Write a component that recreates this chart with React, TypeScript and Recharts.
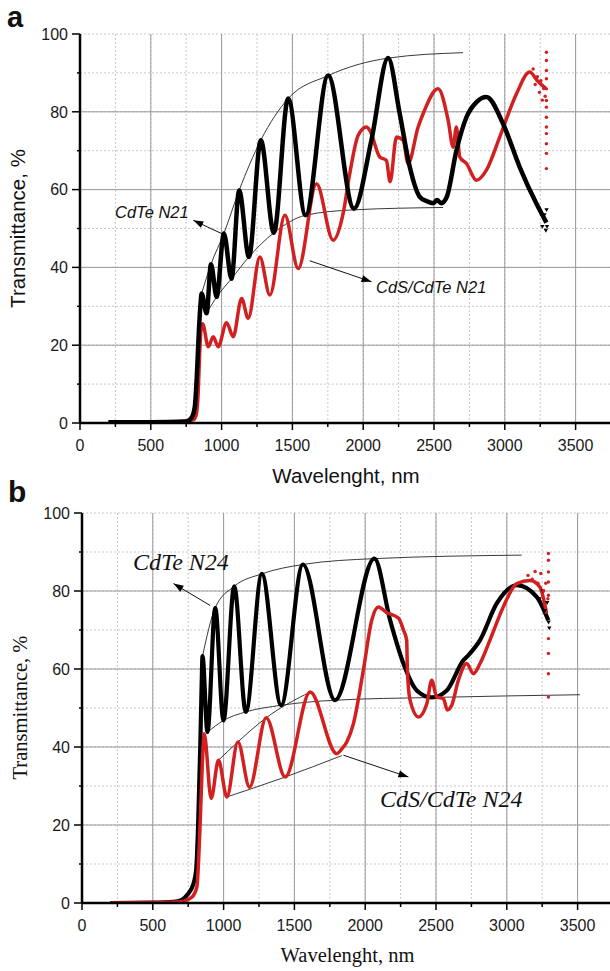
import React from 'react';
import { ComposedChart, Line, Scatter, XAxis, YAxis, CartesianGrid, ReferenceLine } from 'recharts';

const RED = '#d22020';
const SANS = '"Liberation Sans", Arial, sans-serif';
const SERIF = '"Liberation Serif", "Times New Roman", serif';

// axis ticks
const X_TICKS = [0, 250, 500, 750, 1000, 1250, 1500, 1750, 2000, 2250, 2500, 2750, 3000, 3250, 3500, 3750];
const Y_TICKS = [0, 10, 20, 30, 40, 50, 60, 70, 80, 90, 100];
const X_MAJOR = [500, 1000, 1500, 2000, 2500, 3000, 3500];
const Y_MAJOR = [20, 40, 60, 80];

// ---- panel a ----
const n21Wl = [200, 500, 750, 790, 810, 825, 840, 852, 859, 894, 925, 965, 1016, 1070, 1124, 1193, 1277, 1369, 1470, 1593, 1752, 1935, 2058, 2176, 2258, 2329, 2400, 2450, 2495, 2522, 2550, 2590, 2658, 2729, 2800, 2870, 2987, 3105, 3223, 3294];
const n21T = [0.2, 0.2, 0.4, 1.5, 4, 12, 24, 31, 33.3, 28.2, 40.8, 32.4, 48.7, 37.1, 59.8, 42.7, 72.7, 48.9, 83.4, 53.4, 89.3, 55.1, 72.7, 93.8, 79.5, 65.8, 58.1, 57, 56.5, 57.3, 56.5, 58.1, 70, 78.6, 82.5, 83.8, 77, 65.8, 56.4, 51.5];
const n21NoiseWl = [3250, 3265, 3280, 3290, 3295, 3298];
const n21NoiseT = [54.5, 50.5, 53.5, 49.5, 54.8, 50.5];

const cdsN21Wl = [560, 700, 800, 820, 835, 845, 855, 866, 906, 941, 976, 1035, 1082, 1141, 1188, 1270, 1341, 1447, 1541, 1670, 1788, 1858, 1905, 1964, 2023, 2047, 2117, 2164, 2190, 2235, 2282, 2317, 2388, 2423, 2529, 2600, 2635, 2658, 2682, 2729, 2800, 2870, 2964, 3082, 3176, 3230, 3290];
const cdsN21T = [0.2, 0.3, 0.8, 2, 8, 18, 24, 25.5, 19.6, 22.2, 19.6, 25.8, 22.2, 32, 26.9, 42.7, 32.9, 53.4, 39.7, 61.5, 47, 53.8, 64.1, 73.9, 76.1, 75.2, 68.4, 67.5, 62, 73.5, 72.7, 66.7, 76.1, 79.5, 85.9, 77.8, 70.9, 76.1, 68.4, 66.7, 62.4, 65, 73.5, 84.6, 90.2, 88, 86];
const cdsN21NoiseWl = [3200, 3215, 3230, 3245, 3255, 3265, 3275, 3285, 3294, 3294, 3294, 3294, 3294, 3294, 3294, 3294, 3294, 3294, 3294, 3294, 3294];
const cdsN21NoiseT = [91, 87, 89, 85, 88, 83, 86, 84, 95.3, 93.2, 90.6, 88.5, 85.9, 82.9, 81.2, 78.6, 76.1, 74.4, 71.8, 69.3, 65.4];

const n21UpWl = [859, 925, 1016, 1124, 1277, 1470, 1752, 2176, 2705];
const n21UpT = [33.3, 40.8, 48.7, 59.8, 72.7, 83.4, 89.3, 93.8, 95.2];
const n21LoWl = [894, 965, 1070, 1193, 1369, 1593, 1935, 2564];
const n21LoT = [28.2, 32.4, 37.1, 42.7, 48.9, 53.4, 54.8, 55.4];

const arrowA1Wl = [1000, 800];
const arrowA1T = [48.7, 52.1];
const arrowA2Wl = [1623, 2059];
const arrowA2T = [41.7, 36.3];

// ---- panel b ----
const n24Wl = [200, 500, 646, 700, 741, 788, 806, 820, 835, 845, 851, 886, 941, 999, 1075, 1157, 1270, 1406, 1560, 1787, 2065, 2176, 2270, 2364, 2470, 2576, 2693, 2728, 2811, 2929, 3070, 3211, 3293];
const n24T = [0, 0.1, 0.3, 0.7, 2, 5, 8.5, 20, 40, 56, 63.3, 43.8, 75.7, 46.8, 81.2, 49, 84.4, 50.7, 86.8, 52, 88.3, 72.5, 61.4, 54.5, 52.7, 54.5, 62.2, 63.5, 67.4, 76.8, 81.5, 78.5, 72.5];
const n24NoiseWl = [3230, 3255, 3270, 3285, 3295, 3300];
const n24NoiseT = [78, 80, 75, 77, 72, 70.5];

const cdsN24Wl = [200, 500, 694, 776, 811, 835, 850, 863, 912, 964, 1023, 1101, 1183, 1301, 1435, 1611, 1799, 1835, 1870, 1917, 1987, 2046, 2093, 2150, 2236, 2270, 2293, 2298, 2317, 2376, 2435, 2470, 2505, 2552, 2580, 2611, 2658, 2717, 2764, 2811, 2881, 2975, 3070, 3164, 3234, 3281];
const cdsN24T = [0, 0.1, 0.3, 1.5, 4.1, 21, 36, 43.4, 26.8, 36.6, 27.2, 41.3, 29.7, 47.5, 32.3, 54.1, 38.3, 39.5, 41.3, 46, 59.7, 72.5, 75.9, 74.5, 73, 70, 67.4, 59.7, 52, 47.7, 51.1, 57.1, 52.8, 52.4, 49.5, 50.7, 57.1, 61.4, 58.8, 61.4, 67.4, 75.9, 81.9, 82.7, 81, 74.2];
const cdsN24NoiseWl = [3150, 3180, 3200, 3220, 3240, 3260, 3275, 3290, 3294, 3294, 3294, 3294, 3294, 3294, 3294, 3294, 3294];
const cdsN24NoiseT = [84, 83, 85, 82, 84.5, 80, 82, 78, 89.6, 87.9, 84.9, 82.3, 78.9, 67.8, 64, 58.8, 52.8];

const n24UpWl = [851, 941, 1075, 1270, 1560, 2065, 3105];
const n24UpT = [63.3, 75.7, 81.2, 84.4, 86.8, 88.3, 89.2];
const n24LoWl = [886, 999, 1157, 1406, 1787, 2470, 3516];
const n24LoT = [43.8, 46.8, 49, 50.7, 52, 52.7, 53.4];
const cdsN24UpWl = [964, 1101, 1301, 1611];
const cdsN24UpT = [36.6, 41.3, 47.5, 54.1];
const cdsN24LoWl = [1023, 1435, 1835];
const cdsN24LoT = [27.2, 32.3, 37.8];

const arrowB1Wl = [905, 646];
const arrowB1T = [76.3, 81.9];
const arrowB2Wl = [1846, 2305];
const arrowB2T = [37.9, 32.3];

const zip = (w: number[], t: number[]) => w.map((v, i) => ({ w: v, t: t[i] }));

// custom ticks: (x, y) is the point on the axis line
const bottomTick = (p: any) => {
  const major = p.payload.value % 500 === 0;
  return (
    <g>
      <line x1={p.x} x2={p.x} y1={p.y} y2={p.y + (major ? 7 : 4)} stroke="#000" strokeWidth={1.5} />
      {major && (
        <text x={p.x} y={p.y + 28} textAnchor="middle" fontSize={16} fontFamily={SANS} fill="#1a1a1a">
          {p.payload.value}
        </text>
      )}
    </g>
  );
};
const topTick = (p: any) => {
  const major = p.payload.value % 500 === 0;
  return <line x1={p.x} x2={p.x} y1={p.y} y2={p.y + (major ? 7 : 4)} stroke="#000" strokeWidth={1.5} />;
};
const leftTick = (p: any) => {
  const major = p.payload.value % 20 === 0;
  return (
    <g>
      <line x1={p.x} x2={p.x - (major ? 8 : 3)} y1={p.y} y2={p.y} stroke="#000" strokeWidth={1.5} />
      {major && (
        <text x={p.x - 12} y={p.y + 5.8} textAnchor="end" fontSize={16} fontFamily={SANS} fill="#1a1a1a">
          {p.payload.value}
        </text>
      )}
    </g>
  );
};
const rightTick = (p: any) => {
  const major = p.payload.value % 20 === 0;
  return <line x1={p.x} x2={p.x - (major ? 6 : 3)} y1={p.y} y2={p.y} stroke="#000" strokeWidth={1.5} />;
};

const arrowDot = (p: any) => {
  if (p.index !== 1 || !p.points) return <g key={'ad' + p.index} />;
  const a = p.points[0];
  const b = p.points[1];
  const ang = (Math.atan2(b.y - a.y, b.x - a.x) * 180) / Math.PI;
  return (
    <path
      key={'ad' + p.index}
      d="M0,0 L-10,-3.5 L-10,3.5 Z"
      transform={`translate(${p.cx},${p.cy}) rotate(${ang})`}
      fill="#000"
    />
  );
};

const redDot = (p: any) => <circle cx={p.cx} cy={p.cy} r={1.7} fill={RED} />;
const blackTri = (p: any) => (
  <path d={`M${p.cx - 2.2},${p.cy - 1.6} L${p.cx + 2.2},${p.cy - 1.6} L${p.cx},${p.cy + 2.2} Z`} fill="#000" />
);

function Panel({ width, height, top, left, bottom, children }: any) {
  return (
    <ComposedChart width={width} height={height} margin={{ top, right: 0, bottom: 0, left: 0 }}>
      <CartesianGrid stroke="#c9c9c9" strokeDasharray="2 2" />
      {X_MAJOR.map((v) => (
        <ReferenceLine key={'gx' + v} x={v} stroke="#9a9a9a" strokeWidth={1} />
      ))}
      {Y_MAJOR.map((v) => (
        <ReferenceLine key={'gy' + v} y={v} stroke="#9a9a9a" strokeWidth={1} />
      ))}
      <XAxis
        dataKey="w"
        type="number"
        domain={[0, 3750]}
        ticks={X_TICKS}
        interval={0}
        height={bottom}
        tickSize={0}
        tickMargin={0}
        tickLine={false}
        axisLine={{ stroke: '#000', strokeWidth: 2.5 }}
        tick={bottomTick}
        allowDataOverflow
      />
      <XAxis
        xAxisId="top"
        orientation="top"
        type="number"
        domain={[0, 3750]}
        ticks={X_TICKS}
        interval={0}
        height={0}
        tickSize={0}
        tickMargin={0}
        tickLine={false}
        axisLine={{ stroke: '#000', strokeWidth: 2 }}
        tick={topTick}
        allowDataOverflow
      />
      <YAxis
        dataKey="t"
        type="number"
        domain={[0, 100]}
        ticks={Y_TICKS}
        interval={0}
        width={left}
        tickSize={0}
        tickMargin={0}
        tickLine={false}
        axisLine={{ stroke: '#000', strokeWidth: 2.5 }}
        tick={leftTick}
        allowDataOverflow
      />
      <YAxis
        yAxisId="right"
        orientation="right"
        type="number"
        domain={[0, 100]}
        ticks={Y_TICKS}
        interval={0}
        width={0}
        tickSize={0}
        tickMargin={0}
        tickLine={false}
        axisLine={{ stroke: '#000', strokeWidth: 2 }}
        tick={rightTick}
        allowDataOverflow
      />
      {children}
    </ComposedChart>
  );
}

const thin = (key: string, w: number[], t: number[]) => (
  <Line key={key} data={zip(w, t)} dataKey="t" type="monotone" stroke="#222" strokeWidth={0.9} dot={false} activeDot={false} isAnimationActive={false} />
);
const arrow = (key: string, w: number[], t: number[]) => (
  <Line key={key} data={zip(w, t)} dataKey="t" type="linear" stroke="#111" strokeWidth={1} dot={arrowDot} activeDot={false} isAnimationActive={false} />
);

export default function App() {
  return (
    <div style={{ position: 'absolute', left: 0, top: 0, width: 610, height: 971, overflow: 'hidden', background: '#fff' }}>
      <div style={{ position: 'absolute', left: 0, top: 0 }}>
        <Panel width={611} height={490} top={34} left={80} bottom={67}>
          {thin('upA', n21UpWl, n21UpT)}
          {thin('loA', n21LoWl, n21LoT)}
          <Line data={zip(cdsN21Wl, cdsN21T)} dataKey="t" type="monotone" stroke={RED} strokeWidth={3.5} dot={false} activeDot={false} isAnimationActive={false} />
          <Scatter data={zip(cdsN21NoiseWl, cdsN21NoiseT)} dataKey="t" shape={redDot} isAnimationActive={false} />
          <Line data={zip(n21Wl, n21T)} dataKey="t" type="monotone" stroke="#000" strokeWidth={4.5} dot={false} activeDot={false} isAnimationActive={false} />
          <Scatter data={zip(n21NoiseWl, n21NoiseT)} dataKey="t" shape={blackTri} isAnimationActive={false} />
          {arrow('arA1', arrowA1Wl, arrowA1T)}
          {arrow('arA2', arrowA2Wl, arrowA2T)}
        </Panel>
      </div>
      <div style={{ position: 'absolute', left: 0, top: 490 }}>
        <Panel width={613} height={481} top={23} left={82} bottom={68}>
          {thin('upB', n24UpWl, n24UpT)}
          {thin('loB', n24LoWl, n24LoT)}
          {thin('upB2', cdsN24UpWl, cdsN24UpT)}
          {thin('loB2', cdsN24LoWl, cdsN24LoT)}
          <Line data={zip(n24Wl, n24T)} dataKey="t" type="monotone" stroke="#000" strokeWidth={4.2} dot={false} activeDot={false} isAnimationActive={false} />
          <Scatter data={zip(n24NoiseWl, n24NoiseT)} dataKey="t" shape={blackTri} isAnimationActive={false} />
          <Line data={zip(cdsN24Wl, cdsN24T)} dataKey="t" type="monotone" stroke={RED} strokeWidth={3.5} dot={false} activeDot={false} isAnimationActive={false} />
          <Scatter data={zip(cdsN24NoiseWl, cdsN24NoiseT)} dataKey="t" shape={redDot} isAnimationActive={false} />
          {arrow('arB1', arrowB1Wl, arrowB1T)}
          {arrow('arB2', arrowB2Wl, arrowB2T)}
        </Panel>
      </div>
      <svg width={610} height={971} style={{ position: 'absolute', left: 0, top: 0, pointerEvents: 'none' }}>
        <text x={7} y={27} fontSize={29} fontWeight="bold" fontFamily={SANS} fill="#111">a</text>
        <text x={8} y={502} fontSize={30} fontWeight="bold" fontFamily={SANS} fill="#111">b</text>

        <text transform="translate(25,228.5) rotate(-90)" textAnchor="middle" fontSize={20.5} fontFamily={SANS} fill="#111">Transmittance, %</text>
        <text x={346} y={483} textAnchor="middle" fontSize={20.5} fontFamily={SANS} fill="#111">Wavelenght, nm</text>
        <text x={115} y={218} fontSize={16.5} fontStyle="italic" fontFamily={SANS} fill="#111">CdTe N21</text>
        <text x={376} y={292.5} fontSize={16.5} fontStyle="italic" fontFamily={SANS} fill="#111">CdS/CdTe N21</text>

        <text transform="translate(27,707.5) rotate(-90)" textAnchor="middle" fontSize={20.5} fontFamily={SERIF} fill="#111">Transmittance, %</text>
        <text x={347.5} y={962} textAnchor="middle" fontSize={20.5} fontFamily={SERIF} fill="#111">Wavelenght, nm</text>
        <text x={133} y={570} fontSize={24} fontStyle="italic" fontFamily={SERIF} fill="#111">CdTe N24</text>
        <text x={380} y={807} fontSize={24} fontStyle="italic" fontFamily={SERIF} fill="#111">CdS/CdTe N24</text>
      </svg>
    </div>
  );
}
